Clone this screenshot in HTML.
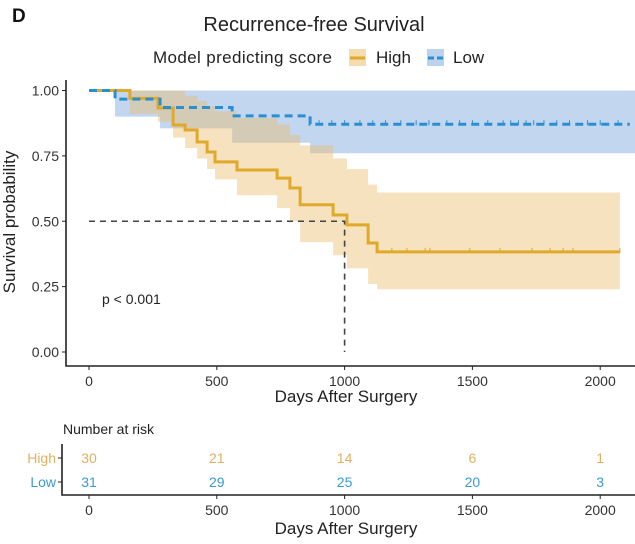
<!DOCTYPE html>
<html><head><meta charset="utf-8"><style>
body{margin:0;background:#fff;}
svg{display:block;font-family:"Liberation Sans",Arial,sans-serif;}
</style></head><body>
<svg id="chart" width="635" height="544" viewBox="0 0 635 544">
<text x="12" y="22" font-size="19" font-weight="bold" fill="#111">D</text>
<text x="314" y="31" font-size="20" text-anchor="middle" fill="#222">Recurrence-free Survival</text>
<g>
<text x="153" y="63" font-size="17" fill="#222" textLength="179">Model predicting score</text>
<rect x="349" y="49" width="17" height="17" fill="#f3dcb0"/>
<line x1="350" y1="58" x2="365" y2="58" stroke="#e0a92a" stroke-width="3"/>
<text x="376" y="63" font-size="17" fill="#222">High</text>
<rect x="427" y="49" width="17" height="17" fill="#bcd3ee"/>
<line x1="428" y1="58" x2="443" y2="58" stroke="#2a8fd0" stroke-width="3" stroke-dasharray="6 3"/>
<text x="453" y="63" font-size="17" fill="#222">Low</text>
</g>
<g id="plot"></g>
<text transform="translate(15,222) rotate(-90)" font-size="17" text-anchor="middle" fill="#222">Survival probability</text>
<text x="346" y="402" font-size="17" text-anchor="middle" fill="#222">Days After Surgery</text>
<text x="102" y="304" font-size="14" fill="#222">p &lt; 0.001</text>
<text x="63" y="434" font-size="14" fill="#222">Number at risk</text>
<g id="risk"></g>
<text x="346" y="534" font-size="17" text-anchor="middle" fill="#222">Days After Surgery</text>
</svg>
<script>
const highDays=[0,160,270,329,376,423,462,493,579,736,786,826,955,1009,1092,1127];
const highSurv=[1,0.97,0.933,0.868,0.849,0.803,0.765,0.727,0.696,0.665,0.627,0.563,0.524,0.486,0.417,0.383];
const highUpper=[1,1,1,1,0.98,0.96,0.94,0.92,0.895,0.87,0.83,0.79,0.74,0.70,0.64,0.61];
const highLower=[1,0.91,0.88,0.82,0.78,0.74,0.70,0.66,0.60,0.55,0.50,0.42,0.37,0.32,0.26,0.24];
const highEnd=2077;
const lowDays=[0,102,278,560,865];
const lowSurv=[1,0.967,0.935,0.903,0.871];
const lowUpper=[1,1,1,1,1];
const lowLower=[1,0.90,0.855,0.80,0.76];
const lowEnd=2116;
const highCensor=[1185,1244,1315,1334,1490,1608,1733,1804,1855,1894,2077];
const lowCensor=[900,950,1000,1060,1110,1160,1220,1280,1330,1400,1450,1500,1560,1620,1650,1680,1710,1740,1780,1830,1880,1950,2000,2070];
const xTicks=[0,500,1000,1500,2000];
const yTicks=[0,0.25,0.5,0.75,1];
const yTickLabels=["0.00","0.25","0.50","0.75","1.00"];
const riskGroups=["High","Low"];
const riskHigh=[30,21,14,6,1];
const riskLow=[31,29,25,20,3];

const NS="http://www.w3.org/2000/svg";
const X=d=>89+d*0.2556;
const Y=s=>352-s*261.5;
const RY=i=>458+i*24;
function mk(tag,attrs,parent){const e=document.createElementNS(NS,tag);for(const k in attrs)e.setAttribute(k,attrs[k]);parent.appendChild(e);return e;}
const plot=document.getElementById('plot');
function stepPath(days,vals,end){let p=`M${X(days[0])},${Y(vals[0])}`;for(let i=1;i<days.length;i++){p+=`H${X(days[i])}V${Y(vals[i])}`;}p+=`H${X(end)}`;return p;}
function band(days,up,lo,end){let p=`M${X(days[0])},${Y(up[0])}`;for(let i=1;i<days.length;i++)p+=`H${X(days[i])}V${Y(up[i])}`;p+=`H${X(end)}V${Y(lo[lo.length-1])}`;for(let i=days.length-1;i>=1;i--)p+=`H${X(days[i])}V${Y(lo[i-1])}`;p+=`H${X(days[0])}Z`;return p;}
let e;
e=mk('path',{d:band(lowDays,lowUpper,lowLower,lowEnd+40),fill:'rgb(120,165,222)','fill-opacity':0.45},plot);


e=mk('path',{d:band(highDays,highUpper,highLower,highEnd),fill:'rgb(236,190,110)','fill-opacity':0.45},plot);


e=mk('path',{d:`M${X(0)},${Y(0.5)}H${X(1000)}V${Y(0)}`,fill:'none',stroke:'#444','stroke-width':1.6,'stroke-dasharray':'6 5'},plot);


e=mk('path',{d:stepPath(highDays,highSurv,highEnd),fill:'none',stroke:'#e0a92a','stroke-width':3},plot);


e=mk('path',{d:stepPath(lowDays,lowSurv,lowEnd),fill:'none',stroke:'#2a8fd0','stroke-width':3,'stroke-dasharray':'8 5'},plot);


function survAt(days,vals,d){let s=vals[0];for(let i=0;i<days.length;i++)if(days[i]<=d)s=vals[i];return s;}
highCensor.forEach(d=>{const c=mk('line',{x1:X(d),x2:X(d),y1:Y(survAt(highDays,highSurv,d))-4,y2:Y(survAt(highDays,highSurv,d))+1,stroke:'#e0a92a','stroke-width':1},plot);

});
lowCensor.forEach(d=>{const c=mk('line',{x1:X(d),x2:X(d),y1:Y(survAt(lowDays,lowSurv,d))-4,y2:Y(survAt(lowDays,lowSurv,d))+1,stroke:'#2a8fd0','stroke-width':1},plot);

});
e=mk('path',{d:'M66,80V366H635',fill:'none',stroke:'#222','stroke-width':1.6},plot);


yTicks.forEach((t,i)=>{mk('line',{x1:62,x2:66,y1:Y(t),y2:Y(t),stroke:'#222'},plot);
const l=mk('text',{x:59,y:Y(t)+5,'font-size':14,'text-anchor':'end',fill:'#333'},plot);l.textContent=yTickLabels[i];

});
xTicks.forEach(t=>{mk('line',{x1:X(t),x2:X(t),y1:366,y2:370,stroke:'#222'},plot);
const l=mk('text',{x:X(t),y:386,'font-size':14,'text-anchor':'middle',fill:'#333'},plot);l.textContent=t;

});
const risk=document.getElementById('risk');
e=mk('path',{d:'M62,444V495H635',fill:'none',stroke:'#222','stroke-width':1.6},risk);


const cols=['#e0b060','#3a9ad6'];
[riskHigh,riskLow].forEach((row,ri)=>{
mk('line',{x1:58,x2:62,y1:RY(ri),y2:RY(ri),stroke:'#222'},risk);
const g=mk('text',{x:56,y:RY(ri)+5,'font-size':14,'text-anchor':'end',fill:cols[ri]},risk);g.textContent=riskGroups[ri];


row.forEach((v,i)=>{const t=mk('text',{x:X(xTicks[i]),y:RY(ri)+5,'font-size':14,'text-anchor':'middle',fill:cols[ri]},risk);t.textContent=v;

});});
xTicks.forEach(t=>{mk('line',{x1:X(t),x2:X(t),y1:495,y2:499,stroke:'#222'},risk);
const l=mk('text',{x:X(t),y:515,'font-size':14,'text-anchor':'middle',fill:'#333'},risk);l.textContent=t;

});
</script>
</body></html>
